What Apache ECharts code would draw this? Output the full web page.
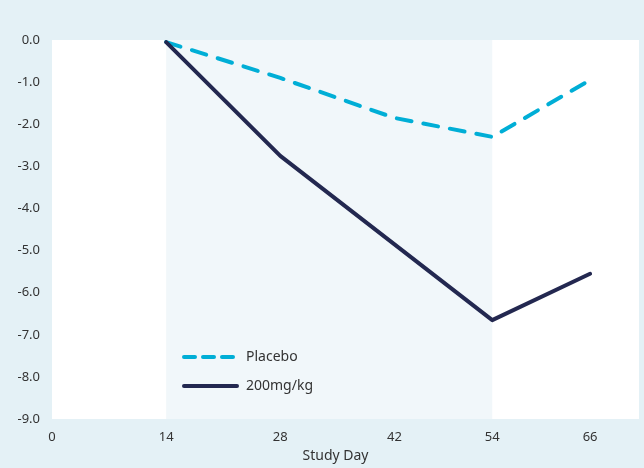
<!DOCTYPE html>
<html>
<head>
<meta charset="utf-8">
<script src="https://cdn.jsdelivr.net/npm/echarts@6/dist/echarts.min.js"></script>
<style>
html,body{margin:0;padding:0;background:#e4f1f6;}
#chart{width:644px;height:468px;}
</style>
</head>
<body>
<div id="chart"></div>
<script>
const studyDays = [14, 28, 42, 54, 66];
const placebo = [-0.05, -0.9, -1.85, -2.3, -0.95];
const dose200Days = [14, 28, 54, 66];
const dose200 = [-0.05, -2.75, -6.65, -5.55];
const xTickLabels = [0, 14, 28, 42, 54, 66];
const bandStart = 14;
const bandEnd = 54;

const chart = echarts.init(document.getElementById('chart'));
const font = '"Noto Sans", sans-serif';
chart.setOption({
  backgroundColor: '#e4f1f6',
  animation: false,
  grid: {left: 52, right: 5, top: 40, bottom: 43, show: true, backgroundColor: '#ffffff', borderWidth: 0},
  legend: {
    orient: 'vertical', left: 177, top: 345, itemWidth: 53, itemHeight: 14, itemGap: 15,
    itemStyle: {opacity: 0},
    lineStyle: {width: 4, cap: 'round'},
    textStyle: {color: '#333', fontSize: 14, fontFamily: font, padding: [0,0,0,4]},
    data: [
      {name: 'Placebo', lineStyle: {width: 4, type: [11, 8], cap: 'round'}},
      {name: '200mg/kg', lineStyle: {width: 4, type: 'solid', cap: 'round'}}
    ]
  },
  xAxis: {
    type: 'value', min: 0, max: 72,
    name: 'Study Day', nameLocation: 'middle', nameGap: 26,
    nameTextStyle: {color: '#333', fontSize: 14, fontFamily: font, padding: [0, 20, 0, 0]},
    axisLine: {show: false}, axisTick: {show: false}, splitLine: {show: false},
    axisLabel: {customValues: xTickLabels, color: '#333', fontSize: 13, fontFamily: font, margin: 12}
  },
  yAxis: {
    type: 'value', min: -9, max: 0, interval: 1,
    axisLine: {show: false}, axisTick: {show: false}, splitLine: {show: false},
    axisLabel: {color: '#333', fontSize: 13, fontFamily: font, margin: 12, formatter: v => v.toFixed(1)}
  },
  series: [
    {
      type: 'line', name: 'band', data: [], silent: true, z: 1,
      markArea: {silent: true, itemStyle: {color: '#f1f7fa'}, data: [[{xAxis: bandStart}, {xAxis: bandEnd}]]}
    },
    {
      type: 'line', name: 'Placebo', z: 3, symbol: 'none',
      data: studyDays.map((d, i) => [d, placebo[i]]),
      lineStyle: {color: '#00aed6', width: 4, type: [15, 12], cap: 'round', join: 'round'},
      itemStyle: {color: '#00aed6'}
    },
    {
      type: 'line', name: '200mg/kg', z: 4, symbol: 'none',
      data: dose200Days.map((d, i) => [d, dose200[i]]),
      lineStyle: {color: '#232850', width: 4, cap: 'round', join: 'round'},
      itemStyle: {color: '#232850'}
    }
  ]
});
</script>
</body>
</html>
